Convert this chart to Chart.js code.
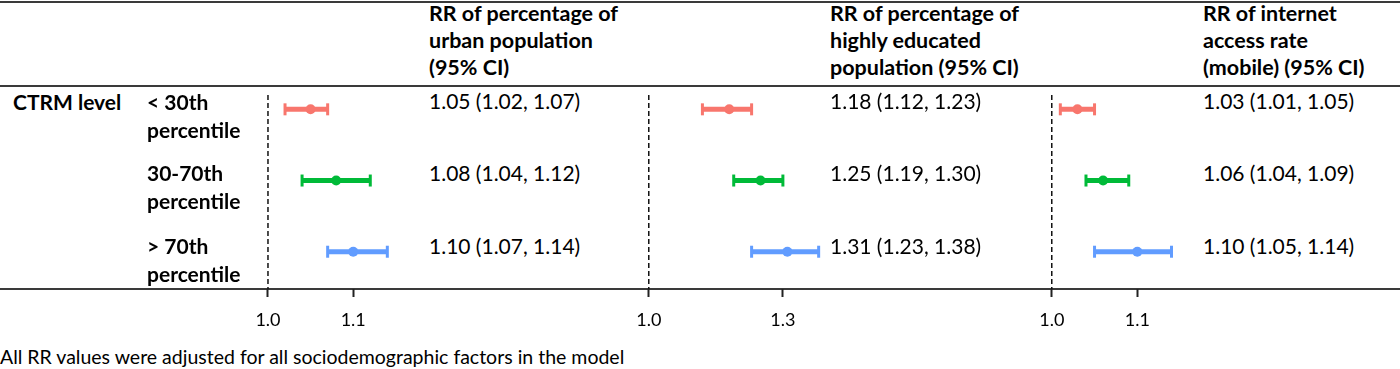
<!DOCTYPE html>
<html>
<head>
<meta charset="utf-8">
<script src="https://cdn.jsdelivr.net/npm/chart.js@4"></script>
<style>
body { margin:0; width:1400px; height:369px; position:relative; background:#fff; overflow:hidden; font-family:Lato, sans-serif; color:#000; }
.hline { position:absolute; left:0; width:1400px; background:#3a3a3a; }
.txt { position:absolute; white-space:nowrap; font-size:21px; line-height:27px; }
.b { font-weight:bold; }
canvas { position:absolute; }
</style>
</head>
<body>
<div class="hline" style="top:1px;height:2px"></div>
<div class="hline" style="top:85px;height:2px"></div>
<div class="hline" style="top:288px;height:2px"></div>

<canvas id="c1" width="285" height="258" style="left:140px;top:86px"></canvas>
<canvas id="c2" width="240" height="258" style="left:600px;top:86px"></canvas>
<canvas id="c3" width="200" height="258" style="left:1000px;top:86px"></canvas>

<script>
// rows (CTRM level groups)
const rows = [0, 1, 2];
const rowLabels = [['< 30th', 'percentile'], ['30-70th', 'percentile'], ['> 70th', 'percentile']];
const rowColors = ['#F8766D', '#00BA38', '#619CFF'];

// RR of percentage of urban population
const urbanRR = [1.05, 1.08, 1.10];
const urbanLo = [1.02, 1.04, 1.07];
const urbanHi = [1.07, 1.12, 1.14];

// RR of percentage of highly educated population
const eduRR = [1.18, 1.25, 1.31];
const eduLo = [1.12, 1.19, 1.23];
const eduHi = [1.23, 1.30, 1.38];

// RR of internet access rate (mobile)
const netRR = [1.03, 1.06, 1.10];
const netLo = [1.01, 1.04, 1.05];
const netHi = [1.05, 1.09, 1.14];

const urbanTicks = [1.0, 1.1];
const eduTicks = [1.0, 1.3];
const netTicks = [1.0, 1.1];

const headers = [
  ['RR of percentage of', 'urban population', '(95% CI)'],
  ['RR of percentage of', 'highly educated', 'population (95% CI)'],
  ['RR of internet', 'access rate', '(mobile) (95% CI)']
];
const footnote = 'All RR values were adjusted for all sociodemographic factors in the model';

// ---- text ----
function addText(str, x, top, cls, style) {
  const d = document.createElement('div');
  d.className = 'txt ' + (cls || '');
  d.style.left = x + 'px';
  d.style.top = top + 'px';
  if (style) Object.assign(d.style, style);
  d.innerHTML = str;
  document.body.appendChild(d);
}
const esc = s => s.replace(/</g, '&lt;').replace(/>/g, '&gt;');

const colX = [429, 830, 1203];
headers.forEach((h, i) => addText(h.map(esc).join('<br>'), colX[i], 0, 'b', {fontSize: '21.5px'}));

const rowCenters = [102, 173, 246];
addText('CTRM level', 13, rowCenters[0] - 14.5, 'b', {lineHeight: '28px'});
rowLabels.forEach((l, i) => addText(l.map(esc).join('<br>'), 147, rowCenters[i] - 14.5, 'b', {lineHeight: '28px'}));

const fmt = (m, l, h) => m.toFixed(2) + ' (' + l.toFixed(2) + ', ' + h.toFixed(2) + ')';
const panels = [[urbanRR, urbanLo, urbanHi], [eduRR, eduLo, eduHi], [netRR, netLo, netHi]];
panels.forEach((p, j) => {
  rows.forEach(i => addText(fmt(p[0][i], p[1][i], p[2][i]), colX[j], rowCenters[i] - 15 + (i ? 1 : 0)));
});

addText(footnote, 0, 345.5, '', {fontSize: '19.5px', lineHeight: '22px'});

// ---- charts ----
const yMin = -0.2013, yMax = 2.5235;

function makePanel(id, rr, lo, hi, xMin, xMax, tickVals) {
  const datasets = [{
    data: [{x: 1, y: yMin}, {x: 1, y: yMax}],
    showLine: true,
    borderColor: '#111',
    borderWidth: 1.5,
    borderDash: [5, 3],
    pointRadius: 0
  }];
  rows.forEach(i => {
    datasets.push({
      data: [{x: lo[i], y: i}, {x: hi[i], y: i}],
      showLine: true,
      borderColor: rowColors[i],
      borderWidth: 5,
      pointStyle: 'line',
      rotation: 90,
      pointRadius: 6,
      pointBorderWidth: 3,
      pointBorderColor: rowColors[i],
      clip: false
    });
  });
  datasets.push({
    data: rows.map(i => ({x: rr[i], y: i})),
    pointRadius: 5,
    pointBackgroundColor: rowColors,
    pointBorderWidth: 0,
    clip: false
  });

  new Chart(document.getElementById(id), {
    type: 'scatter',
    data: {datasets: datasets},
    options: {
      responsive: false,
      animation: false,
      layout: {padding: 0},
      plugins: {legend: {display: false}, tooltip: {enabled: false}},
      scales: {
        x: {
          type: 'linear',
          min: xMin,
          max: xMax,
          afterBuildTicks: s => { s.ticks = tickVals.map(v => ({value: v})); },
          afterFit: s => { s.height = 55; },
          ticks: {
            callback: v => v.toFixed(1),
            font: {family: 'Lato', size: 18},
            color: '#000',
            padding: 12,
            maxRotation: 0,
            autoSkip: false
          },
          grid: {drawOnChartArea: false, drawTicks: true, tickLength: 8, tickWidth: 2, tickColor: '#222'},
          border: {display: false}
        },
        y: {
          type: 'linear',
          reverse: true,
          min: yMin,
          max: yMax,
          display: false
        }
      }
    }
  });
}

makePanel('c1', urbanRR, urbanLo, urbanHi, 0.86044, 1.17363, urbanTicks);
makePanel('c2', eduRR, eduLo, eduHi, 0.91103, 1.40761, eduTicks);
makePanel('c3', netRR, netLo, netHi, 0.95, 1.16277, netTicks);
</script>
</body>
</html>
